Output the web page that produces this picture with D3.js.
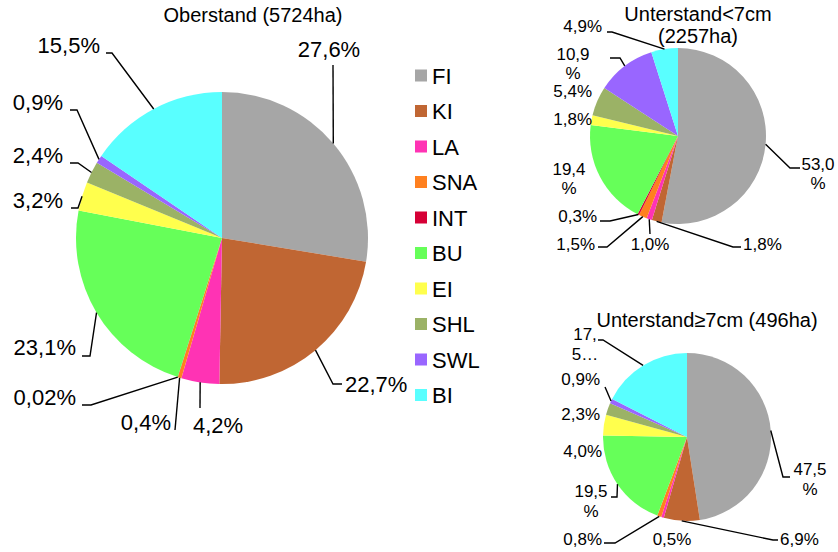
<!DOCTYPE html>
<html>
<head>
<meta charset="utf-8">
<script src="https://cdn.jsdelivr.net/npm/d3@7"></script>
<style>
  body { margin: 0; background: #fff; }
  text { font-family: "Liberation Sans", Arial, sans-serif; fill: #000; }
</style>
</head>
<body>
<script>
// species (same order in every pie, clockwise from 12 o'clock)
var species = ["FI", "KI", "LA", "SNA", "INT", "BU", "EI", "SHL", "SWL", "BI"];
var speciesColors = ["#a6a6a6", "#c06633", "#ff33b4", "#ff801f", "#d60036",
                     "#66ff59", "#ffff4d", "#9bb266", "#9966ff", "#59ffff"];

// shares in percent
var oberstand = [27.6, 22.7, 4.2, 0.4, 0.02, 23.1, 3.2, 2.4, 0.9, 15.5];
var unterKlein = [53.0, 1.8, 1.0, 1.5, 0.3, 19.4, 1.8, 5.4, 10.9, 4.9];
var unterGross = [47.5, 6.9, 0.5, 0.8, 0.0, 19.5, 4.0, 2.3, 0.9, 17.5];

// chart titles
var titleOber = ["Oberstand (5724ha)"];
var titleKlein = ["Unterstand<7cm", "(2257ha)"];
var titleGross = ["Unterstand\u22657cm (496ha)"];

// label placement (page coords), lead = leader points from label towards slice
var oberLabels = [
  { x: 329, y: 57, a: "middle", lead: [[333, 65]] },
  { x: 345, y: 392, a: "start", lead: [[342, 384], [333, 384]] },
  { x: 218, y: 433, a: "middle", lead: [[200, 408]] },
  { x: 171, y: 430, a: "end", lead: [[175, 430]] },
  { x: 76, y: 405, a: "end", lead: [[82, 405], [91, 405]] },
  { x: 76, y: 355, a: "end", lead: [[82, 356], [90, 356]] },
  { x: 63, y: 208, a: "end", lead: [[71, 208], [78, 208]] },
  { x: 63, y: 163, a: "end", lead: [[70, 163], [78, 163]] },
  { x: 63, y: 110, a: "end", lead: [[70, 110], [77, 110]] },
  { x: 100, y: 53, a: "end", lead: [[106, 53], [112, 53]] },
];
var kleinLabels = [
  { x: 818, y: 170, a: "middle", wrap: true, lead: [[800, 168], [790, 168]] },
  { x: 743, y: 250, a: "start", lead: [[741, 247], [733, 247]] },
  { x: 650, y: 250, a: "middle", lead: [[650, 234]] },
  { x: 595, y: 250, a: "end", lead: [[598, 247], [607, 247]] },
  { x: 597, y: 222, a: "end", lead: [[600, 221], [610, 221]] },
  { x: 569, y: 175, a: "middle", wrap: true },
  { x: 592, y: 125, a: "end" },
  { x: 592, y: 97, a: "end" },
  { x: 573, y: 60, a: "middle", wrap: true, lead: [[610, 58], [620, 58]] },
  { x: 602, y: 32, a: "end", lead: [[607, 32], [612, 32]] },
];
var grossLabels = [
  { x: 810, y: 475, a: "middle", wrap: true, lead: [[790, 477], [783, 477]] },
  { x: 780, y: 545, a: "start", lead: [[778, 540], [773, 540]] },
  { x: 672, y: 545, a: "middle" },
  { x: 602, y: 545, a: "end", lead: [[604, 543], [615, 543]] },
  null,
  { x: 591, y: 497, a: "middle", wrap: true, lead: [[611, 497], [617, 497]] },
  { x: 602, y: 457, a: "end" },
  { x: 600, y: 420, a: "end" },
  { x: 600, y: 385, a: "end", lead: [[605, 387]] },
  { x: 585, y: 340, a: "middle", lines: ["17,", "5\u2026"], lead: [[598, 340], [603, 340]] },
];

var width = 838;
var height = 552;

var svg = d3
  .select("body")
  .append("svg")
  .attr("width", width)
  .attr("height", height);

function fmt(v) {
  var s = v < 0.1 ? v.toFixed(2) : v.toFixed(1);
  return s.replace(".", ",") + "%";
}

function drawPie(values, labels, opts) {
  var g = svg.append("g");
  var pie = d3.pie().sort(null).value((d) => d);
  var arcs = pie(values);
  var arc = d3.arc().innerRadius(0).outerRadius(opts.r);
  var edge = d3.arc().innerRadius(opts.r).outerRadius(opts.r);

  var slices = g.append("g").attr("transform", `translate(${opts.cx},${opts.cy})`);
  slices
    .selectAll("path")
    .data(arcs)
    .enter()
    .append("path")
    .attr("d", arc)
    .attr("fill", (d, i) => speciesColors[i]);

  // title
  g.selectAll(".title")
    .data(opts.title)
    .enter()
    .append("text")
    .attr("x", opts.tx)
    .attr("y", (d, i) => opts.ty + i * 22)
    .attr("text-anchor", "middle")
    .style("font-size", "20px")
    .text((d) => d);

  arcs.forEach((d, i) => {
    var lab = labels[i];
    if (!lab || d.value === 0) return;

    if (lab.lead) {
      var c = edge.centroid(d);
      var pts = lab.lead.concat([[opts.cx + c[0], opts.cy + c[1]]]);
      g.append("path")
        .attr("d", d3.line()(pts))
        .attr("fill", "none")
        .attr("stroke", "#000")
        .attr("stroke-width", 1.4);
    }

    var txt = fmt(d.value);
    var lines = lab.lines || (lab.wrap ? [txt.slice(0, -1), "%"] : [txt]);
    var t = g.append("text")
      .attr("text-anchor", lab.a)
      .style("font-size", opts.fs + "px");
    lines.forEach((ln, k) => {
      t.append("tspan")
        .attr("x", lab.x)
        .attr("y", lab.y + k * opts.lh)
        .text(ln);
    });
  });
}

drawPie(oberstand, oberLabels, { cx: 222, cy: 238, r: 146, fs: 22, lh: 24, title: titleOber, tx: 253, ty: 22 });
drawPie(unterKlein, kleinLabels, { cx: 678, cy: 136, r: 88, fs: 17, lh: 19, title: titleKlein, tx: 698, ty: 21 });
drawPie(unterGross, grossLabels, { cx: 687, cy: 437, r: 84, fs: 17, lh: 20, title: titleGross, tx: 707, ty: 327 });

// legend
var legendY = d3.scalePoint().domain(species).range([75.5, 395]);
var legend = svg
  .append("g")
  .selectAll("g")
  .data(species)
  .enter()
  .append("g")
  .attr("transform", (d) => `translate(415, ${legendY(d)})`);

legend
  .append("rect")
  .attr("x", 0)
  .attr("y", -6)
  .attr("width", 12)
  .attr("height", 12)
  .attr("fill", (d, i) => speciesColors[i]);

legend
  .append("text")
  .attr("x", 17)
  .attr("y", 8)
  .style("font-size", "22px")
  .text((d) => d);
</script>
</body>
</html>
